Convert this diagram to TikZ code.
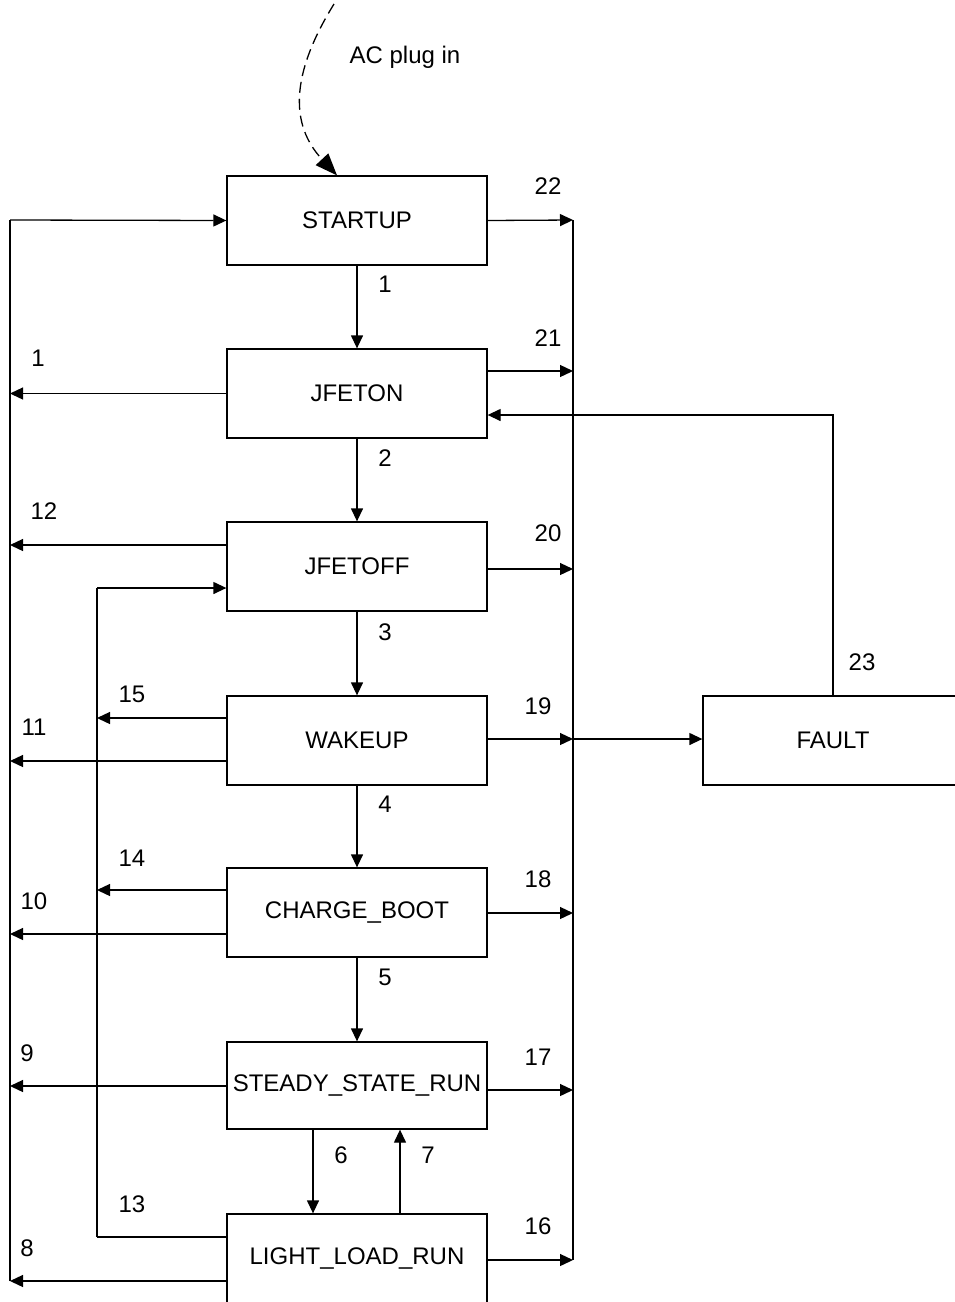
\documentclass[tikz,border=0pt]{standalone}
\usepackage{fontspec}
\setmainfont{Liberation Sans}
\usetikzlibrary{arrows.meta}
\begin{document}
\begin{tikzpicture}[x=1pt,y=-1pt,
  line width=1.3pt,
  font=\fontsize{24}{28}\selectfont,
  state/.style={draw, minimum width=260pt, minimum height=89pt, inner sep=0pt, anchor=center},
  arr/.style={-{Triangle[length=13pt,width=12pt]}},
  lbl/.style={inner sep=0pt, anchor=center}]
\useasboundingbox (0,0) rectangle (954,1302);
% states
\node[state] (startup) at (357,220.5) {STARTUP};
\node[state] (jfeton) at (357,393.5) {JFETON};
\node[state] (jfetoff) at (357,566.5) {JFETOFF};
\node[state] (wakeup) at (357,740.5) {WAKEUP};
\node[state] (charge) at (357,912.5) {CHARGE\_BOOT};
\node[state, minimum height=87pt] (steady) at (357,1085.5) {STEADY\_STATE\_RUN};
\node[state] (light) at (357,1258.5) {LIGHT\_LOAD\_RUN};
\node[state] (fault) at (833,740.5) {FAULT};
% AC plug in
\coordinate (acstart) at (334,4);
\draw[dash pattern=on 11pt off 6pt, -{Triangle[length=22pt,width=17pt]}]
  (acstart) .. controls (290,75) and (290,125) .. (startup.north -| 337,0);
\node[lbl] (ac) at (405,57) {AC plug in};
% main chain
\draw[arr] (startup.south) -- (jfeton.north);
\draw[arr] (jfeton.south) -- (jfetoff.north);
\draw[arr] (jfetoff.south) -- (wakeup.north);
\draw[arr] (wakeup.south) -- (charge.north);
\draw[arr] (charge.south) -- (steady.north);
\draw[arr] (steady.south -| 313,0) -- (light.north -| 313,0);
\draw[arr] (light.north -| 400,0) -- (steady.south -| 400,0);
% left bus
\coordinate (Ltop) at (10,220);
\coordinate (Lbot) at (10,1281);
\draw (Lbot) -- (Ltop);
\draw[arr] (Ltop) -- (startup.west);
\draw[arr] (jfeton.west) -- (Ltop |- jfeton.west);
\draw[arr] (jfetoff.west |- 0,545) -- (Ltop |- 0,545);
\draw[arr] (wakeup.west |- 0,761) -- (Ltop |- 0,761);
\draw[arr] (charge.west |- 0,934) -- (Ltop |- 0,934);
\draw[arr] (steady.west |- 0,1086) -- (Ltop |- 0,1086);
\draw[arr] (light.west |- Lbot) -- (Lbot);
% inner bus
\coordinate (Itop) at (97,588);
\coordinate (Ibot) at (97,1237);
\draw (Ibot) -- (Itop);
\draw[arr] (Itop) -- (jfetoff.west |- Itop);
\draw[arr] (wakeup.west |- 0,718) -- (Itop |- 0,718);
\draw[arr] (charge.west |- 0,890) -- (Itop |- 0,890);
\draw (light.west |- Ibot) -- (Ibot);
% right bus
\coordinate (Rtop) at (573,220);
\coordinate (Rbot) at (573,1260);
\draw (Rtop) -- (Rbot);
\draw[arr] (startup.east) -- (Rtop);
\draw[arr] (jfeton.east |- 0,371) -- (Rtop |- 0,371);
\draw[arr] (jfetoff.east |- 0,569) -- (Rtop |- 0,569);
\draw[arr] (wakeup.east |- 0,739) -- (Rtop |- 0,739);
\draw[arr] (charge.east |- 0,913) -- (Rtop |- 0,913);
\draw[arr] (steady.east |- 0,1090) -- (Rtop |- 0,1090);
\draw[arr] (light.east |- Rbot) -- (Rbot);
\draw[arr] (Rtop |- 0,739) -- (fault.west |- 0,739);
% fault return
\draw[arr] (fault.north) |- (jfeton.east |- 0,415);
% labels
\node[lbl] at (385,284) {1};
\node[lbl] at (385,458) {2};
\node[lbl] at (385,632) {3};
\node[lbl] at (385,804) {4};
\node[lbl] at (385,977) {5};
\node[lbl] at (341,1155) {6};
\node[lbl] at (428,1155) {7};
\node[lbl] at (548,186) {22};
\node[lbl] at (548,338) {21};
\node[lbl] at (548,533) {20};
\node[lbl] at (538,706) {19};
\node[lbl] at (538,879) {18};
\node[lbl] at (538,1057) {17};
\node[lbl] at (538,1226) {16};
\node[lbl] at (38,358) {1};
\node[lbl] at (44,511) {12};
\node[lbl] at (34,727) {11};
\node[lbl] at (34,901) {10};
\node[lbl] at (27,1053) {9};
\node[lbl] at (27,1248) {8};
\node[lbl] at (132,694) {15};
\node[lbl] at (132,858) {14};
\node[lbl] at (132,1204) {13};
\node[lbl] at (862,662) {23};
\end{tikzpicture}
\end{document}
